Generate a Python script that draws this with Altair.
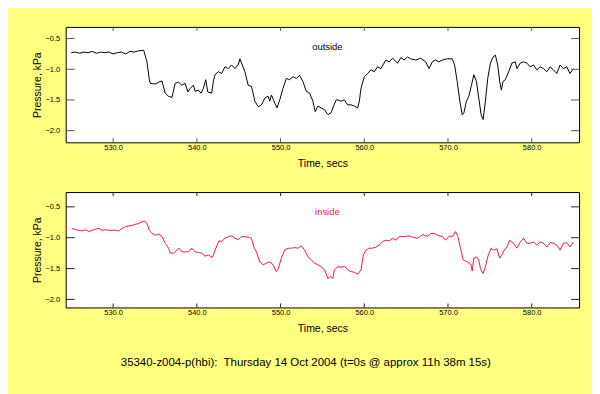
import altair as alt
import pandas as pd

OUT_T = [
    525.0, 525.5, 526.0, 526.5, 527.0, 527.5, 528.0, 528.5, 529.0, 529.5,
    530.0, 530.5, 531.0, 531.5, 532.0, 532.5, 533.0, 533.65, 534.04, 534.32,
    534.44, 535.04, 535.43, 535.83, 536.22, 536.62, 537.02, 537.41, 537.81, 538.21,
    538.60, 538.92, 539.20, 539.59, 539.79, 540.19, 540.50, 540.78, 541.06, 541.30,
    541.77, 541.97, 542.17, 542.57, 542.96, 543.36, 543.76, 544.15, 544.55, 544.94,
    545.14, 545.74, 546.13, 546.53, 546.93, 547.32, 547.72, 548.12, 548.51, 548.71,
    548.91, 549.30, 549.58, 549.90, 550.29, 550.69, 551.09, 551.48, 551.88, 552.28,
    552.67, 553.07, 553.47, 553.86, 554.14, 554.46, 554.85, 555.25, 555.65, 556.04,
    556.24, 556.64, 556.83, 557.23, 557.63, 558.02, 558.42, 558.82, 559.21, 559.41,
    559.61, 560.01, 560.40, 560.80, 561.20, 561.59, 561.99, 562.58, 562.98, 563.38,
    563.97, 564.37, 564.76, 565.16, 565.55, 566.15, 566.74, 567.34, 567.73, 568.13,
    568.53, 568.92, 569.32, 569.91, 570.51, 570.79, 571.10, 571.42, 571.70, 571.90,
    572.21, 572.49, 572.77, 573.09, 573.40, 573.68, 573.96, 574.20, 574.47, 574.75,
    575.07, 575.39, 575.66, 575.94, 576.18, 576.38, 576.57, 576.85, 577.25, 577.64,
    578.04, 578.24, 578.63, 579.03, 579.43, 579.82, 580.22, 580.62, 581.01, 581.41,
    581.81, 582.20, 582.60, 583.00, 583.39, 583.79, 584.18, 584.58, 584.98,
]
OUT_V = [
    -0.73, -0.72, -0.74, -0.72, -0.73, -0.71, -0.74, -0.72, -0.73, -0.72,
    -0.75, -0.73, -0.72, -0.75, -0.71, -0.72, -0.70, -0.69, -0.88, -1.17,
    -1.23, -1.24, -1.21, -1.19, -1.39, -1.44, -1.46, -1.23, -1.21, -1.26,
    -1.23, -1.37, -1.31, -1.26, -1.36, -1.34, -1.39, -1.31, -1.17, -1.37,
    -1.39, -1.20, -1.09, -1.04, -1.07, -0.96, -0.99, -0.93, -0.99, -0.93,
    -0.83, -1.04, -1.26, -1.28, -1.52, -1.61, -1.58, -1.47, -1.44, -1.52,
    -1.42, -1.55, -1.63, -1.50, -1.31, -1.15, -1.17, -1.12, -1.15, -1.10,
    -1.20, -1.36, -1.39, -1.52, -1.69, -1.60, -1.63, -1.66, -1.74, -1.71,
    -1.63, -1.50, -1.50, -1.52, -1.50, -1.58, -1.58, -1.60, -1.63, -1.52,
    -1.31, -1.12, -1.07, -1.01, -1.04, -0.96, -0.99, -0.85, -0.88, -0.82,
    -0.90, -0.81, -0.85, -0.80, -0.83, -0.85, -0.82, -0.88, -0.99, -0.88,
    -0.85, -0.88, -0.85, -0.83, -0.83, -0.93, -1.20, -1.52, -1.74, -1.71,
    -1.52, -1.44, -1.28, -1.09, -1.20, -1.47, -1.74, -1.82, -1.52, -1.15,
    -0.90, -0.80, -0.77, -0.93, -1.20, -1.34, -1.20, -1.17, -1.04, -0.90,
    -0.88, -0.99, -0.90, -0.88, -0.90, -0.96, -0.93, -1.01, -0.96, -0.99,
    -1.04, -0.96, -1.01, -1.07, -0.93, -0.99, -0.96, -1.07, -0.99,
]

IN_T = [
    525.05, 525.52, 525.92, 526.31, 526.71, 527.11, 527.50, 527.90, 528.30, 528.69,
    529.09, 529.49, 529.88, 530.28, 530.67, 531.07, 531.47, 531.86, 532.26, 532.66,
    533.05, 533.45, 533.77, 534.04, 534.32, 534.64, 535.04, 535.43, 535.83, 536.22,
    536.62, 536.82, 537.21, 537.61, 537.89, 538.21, 538.60, 539.00, 539.40, 539.79,
    540.19, 540.58, 540.98, 541.38, 541.85, 542.17, 542.64, 542.96, 543.36, 543.76,
    544.15, 544.55, 544.94, 545.34, 546.13, 546.53, 546.81, 547.12, 547.52, 547.92,
    548.31, 548.71, 549.11, 549.50, 549.70, 550.10, 550.49, 550.89, 551.29, 551.68,
    552.08, 552.47, 552.87, 553.27, 553.66, 554.06, 554.46, 554.85, 555.25, 555.65,
    555.96, 556.24, 556.44, 556.83, 557.23, 557.63, 558.02, 558.42, 558.82, 559.21,
    559.61, 559.89, 560.20, 560.60, 561.00, 561.39, 561.79, 562.19, 562.58, 562.98,
    563.38, 563.77, 564.17, 564.76, 565.36, 565.75, 566.35, 566.94, 567.54, 567.93,
    568.33, 568.73, 569.32, 569.72, 570.11, 570.63, 570.91, 571.18, 571.50, 571.82,
    572.29, 572.77, 572.89, 573.09, 573.40, 573.68, 573.88, 574.20, 574.47, 574.75,
    575.15, 575.46, 575.86, 576.18, 576.45, 576.73, 577.05, 577.37, 577.84, 578.24,
    578.63, 579.03, 579.43, 579.82, 580.22, 580.62, 581.01, 581.41, 581.81, 582.20,
    582.60, 583.00, 583.39, 583.79, 584.18, 584.58, 584.98,
]
IN_V = [
    -0.85, -0.87, -0.88, -0.89, -0.87, -0.90, -0.88, -0.86, -0.85, -0.88,
    -0.87, -0.88, -0.88, -0.88, -0.89, -0.85, -0.82, -0.81, -0.80, -0.78,
    -0.77, -0.74, -0.73, -0.77, -0.88, -0.93, -0.96, -0.94, -0.98, -1.09,
    -1.17, -1.25, -1.25, -1.20, -1.17, -1.23, -1.23, -1.23, -1.17, -1.23,
    -1.24, -1.25, -1.30, -1.28, -1.32, -1.20, -1.05, -1.06, -1.01, -0.98,
    -0.97, -1.01, -1.03, -0.98, -0.99, -1.01, -1.15, -1.23, -1.39, -1.44,
    -1.41, -1.39, -1.44, -1.55, -1.51, -1.33, -1.20, -1.17, -1.17, -1.16,
    -1.17, -1.13, -1.20, -1.31, -1.36, -1.41, -1.44, -1.47, -1.52, -1.66,
    -1.63, -1.66, -1.52, -1.47, -1.48, -1.46, -1.52, -1.55, -1.56, -1.59,
    -1.52, -1.28, -1.20, -1.17, -1.17, -1.15, -1.12, -1.06, -1.04, -1.05,
    -1.01, -1.04, -0.98, -0.98, -0.97, -0.99, -1.01, -0.95, -0.98, -0.93,
    -0.93, -0.96, -0.98, -1.04, -0.98, -0.97, -0.90, -0.98, -1.17, -1.36,
    -1.39, -1.44, -1.54, -1.33, -1.31, -1.36, -1.50, -1.58, -1.47, -1.31,
    -1.17, -1.20, -1.18, -1.33, -1.28, -1.20, -1.15, -1.04, -1.09, -1.17,
    -1.07, -1.01, -1.09, -1.09, -1.07, -1.12, -1.07, -1.09, -1.15, -1.08,
    -1.09, -1.12, -1.20, -1.09, -1.08, -1.15, -1.07,
]

X_TICKS = [530, 540, 550, 560, 570, 580]
Y_TICKS = [-0.5, -1.0, -1.5, -2.0]
X_DOMAIN = [524.33, 585.66]
TOP_Y_DOMAIN = [-2.19, -0.31]
BOTTOM_Y_DOMAIN = [-2.13, -0.26]
FOOTER = "35340-z004-p(hbi):\u00a0 Thursday 14 Oct 2004 (t=0s @ approx 11h 38m 15s)"

W, H = 516, 116
FONT = "Liberation Sans"

df_out = pd.DataFrame({"t": OUT_T, "p": OUT_V})
df_in = pd.DataFrame({"t": IN_T, "p": IN_V})
xt = pd.DataFrame({"v": X_TICKS})
yt = pd.DataFrame({"v": Y_TICKS})

X_AXIS = alt.Axis(values=X_TICKS, format=".1f", title="Time, secs",
                  ticks=False, tickSize=0, domain=False, grid=False,
                  labelPadding=1, titlePadding=8)
Y_AXIS = alt.Axis(values=Y_TICKS, format=".1f", title="Pressure, kPa",
                  ticks=False, tickSize=0, domain=False, grid=False,
                  labelPadding=6, titlePadding=3)


def panel(data, color, label, ydom, tick_color):
    xs = alt.Scale(domain=X_DOMAIN, nice=False, zero=False)
    ys = alt.Scale(domain=ydom, nice=False, zero=False)
    line = alt.Chart(data).mark_line(color=color, strokeWidth=1, clip=True).encode(
        x=alt.X("t:Q", scale=xs, axis=X_AXIS),
        y=alt.Y("p:Q", scale=ys, axis=Y_AXIS),
    )
    ytl = alt.Chart(yt).mark_rule(color=tick_color, strokeWidth=1).encode(
        y=alt.Y("v:Q", scale=ys, axis=Y_AXIS), x=alt.value(0), x2=alt.value(9))
    ytr = alt.Chart(yt).mark_rule(color=tick_color, strokeWidth=1).encode(
        y=alt.Y("v:Q", scale=ys, axis=Y_AXIS), x=alt.value(W - 8), x2=alt.value(W))
    xtt = alt.Chart(xt).mark_rule(color=tick_color, strokeWidth=1).encode(
        x=alt.X("v:Q", scale=xs, axis=X_AXIS), y=alt.value(0), y2=alt.value(4))
    xtb = alt.Chart(xt).mark_rule(color=tick_color, strokeWidth=1).encode(
        x=alt.X("v:Q", scale=xs, axis=X_AXIS), y=alt.value(H - 4), y2=alt.value(H))
    txt = alt.Chart(pd.DataFrame({"label": [label]})).mark_text(
        color=color, font=FONT, fontSize=9.5, align="center", baseline="middle"
    ).encode(text="label:N", x=alt.value(263), y=alt.value(20))
    return alt.layer(line, ytl, ytr, xtt, xtb, txt).properties(width=W, height=H)


top = panel(df_out, "#000000", "outside", TOP_Y_DOMAIN, "#555555")
bottom = panel(df_in, "#FF1050", "inside", BOTTOM_Y_DOMAIN, "#222222")

chart = alt.vconcat(top, bottom, spacing=21).properties(
    title=alt.TitleParams(FOOTER, orient="bottom", anchor="middle", fontSize=11.5,
                          font=FONT, fontWeight="normal", color="#000000",
                          offset=22),
    background="#FFFF80",
    padding={"left": 23, "top": 17, "right": 12, "bottom": 26},
).configure_view(
    stroke="#000000", strokeWidth=1, fill="#FFFFFF"
).configure_axis(
    labelFont=FONT, labelFontSize=7.5, labelColor="#000000",
    titleFont=FONT, titleFontSize=10.5, titleFontWeight="normal", titleColor="#000000",
)

chart.save("out.html", embed_options={"renderer": "svg", "actions": False})
